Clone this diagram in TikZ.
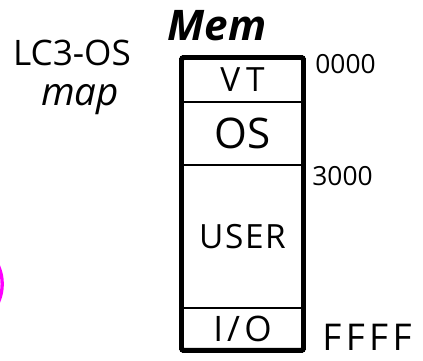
\documentclass[tikz,border=0pt]{standalone}
\usepackage{fontspec}
\setmainfont{Open Sans}
\usetikzlibrary{positioning}
\definecolor{penmagenta}{HTML}{FF00FF}

\begin{document}
\begin{tikzpicture}[
        x=0.02cm, y=-0.02cm,
        seg/.style={draw, line width=1.4pt, minimum width=2.44cm, inner sep=0pt, outer sep=0pt, align=center},
        addr/.style={font=\fontsize{15}{16}\selectfont, anchor=base west, inner sep=0pt},
        title/.style={font=\fontsize{20}{22}\selectfont, anchor=base},
        spaced/.style 2 args={font=\fontsize{#1}{#1}\selectfont\addfontfeature{LetterSpace=#2}}
    ]
    \useasboundingbox (0,0) rectangle (423,360);

    % === Memory segments ===
    \node[seg, minimum height=0.89cm, spaced={19}{18}] (vt) at (242.5,79.75) {VT};
    \node[seg, minimum height=1.26cm, below=0pt of vt, font=\fontsize{24}{26}\selectfont] (os) {OS};
    \node[seg, minimum height=2.86cm, below=0pt of os, spaced={19}{5}] (user) {USER};
    \node[seg, minimum height=0.85cm, below=0pt of user, spaced={20}{12}] (io) {I/O};
    % outer frame
    \draw[line width=2.8pt, rounded corners=1pt] (vt.north west) rectangle (io.south east);

    % === Titles ===
    \node[anchor=base, font=\fontsize{24}{26}\selectfont\bfseries\itshape] (mem) at (217,40) {Mem};
    \node[title] (lc3) at (72,65) {LC3-OS};
    \node[title, font=\fontsize{22}{24}\selectfont\itshape] (map) at (80,105) {map};

    % === Addresses ===
    \node[addr] (a0000) at (315,73) {0000};
    \node[addr] (a3000) at (312,185) {3000};
    \node[addr, spaced={21}{12}, text depth=0pt] (affff) at (322,350) {FFFF};

    % pen mark at the left edge
    \begin{scope}
        \clip (0,0) rectangle (423,360);
        \draw[penmagenta, line width=1.9pt] (-42.8,284) circle (45);
    \end{scope}
\end{tikzpicture}
\end{document}
